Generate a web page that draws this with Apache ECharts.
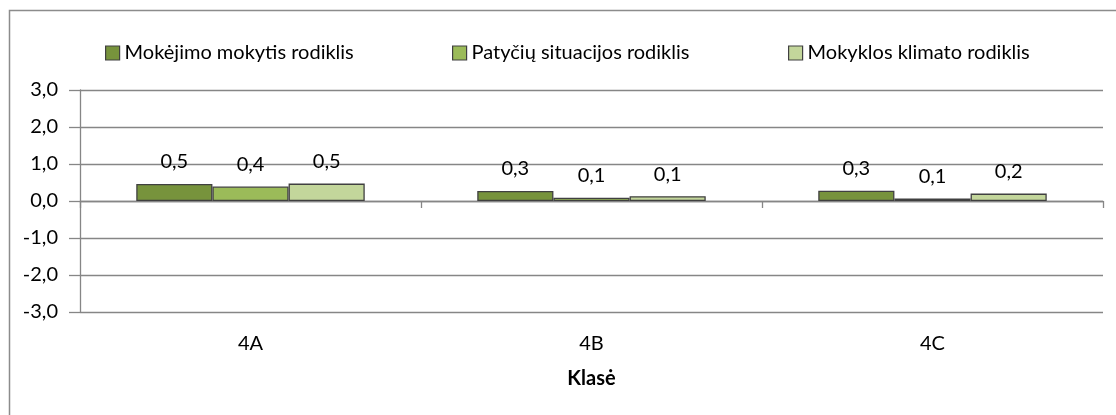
<!DOCTYPE html>
<html>
<head>
<meta charset="utf-8">
<script src="https://cdn.jsdelivr.net/npm/echarts@6/dist/echarts.min.js"></script>
<style>
html,body{margin:0;padding:0;background:#fff;}
#chart{width:1116px;height:415px;}
</style>
</head>
<body>
<div id="chart"></div>
<script>
const categories = ['4A', '4B', '4C'];
const seriesNames = ['Mokėjimo mokytis rodiklis', 'Patyčių situacijos rodiklis', 'Mokyklos klimato rodiklis'];
const mokejimo = [0.46, 0.27, 0.28];
const patyciu = [0.39, 0.09, 0.07];
const klimato = [0.47, 0.13, 0.20];
const seriesColors = ['#77933C', '#9BBB59', '#C3D69B'];
const axisTitle = 'Klasė';

const FONT = 'Lato';
const fmt = v => v.toFixed(1).replace('.', ',');
const values = [mokejimo, patyciu, klimato];

const chart = echarts.init(document.getElementById('chart'));
const legendLefts = [105, 452, 788];
chart.setOption({
  animation: false,
  backgroundColor: '#fff',
  textStyle: { fontFamily: FONT },
  graphic: [{
    type: 'rect', left: 7, top: 8, z: 0,
    shape: { width: 1200, height: 500 },
    style: { fill: 'none', stroke: '#8c8c8c', lineWidth: 1.5 }
  }],
  legend: seriesNames.map((n, i) => ({
    data: [n], left: legendLefts[i], top: 43, padding: 0,
    itemWidth: 14, itemHeight: 14, itemGap: 6,
    icon: 'rect',
    itemStyle: { borderColor: '#404040', borderWidth: 1.2 },
    textStyle: { fontFamily: FONT, fontSize: 20, color: '#000' }
  })),
  grid: { left: 80, right: 13, top: 90, bottom: 103, containLabel: false },
  xAxis: [{
    type: 'category', data: categories, position: 'bottom',
    axisLine: { onZero: true, lineStyle: { color: '#868686', width: 1.3 } },
    axisTick: { show: true, length: 7, lineStyle: { color: '#868686', width: 1.3 } },
    axisLabel: { show: false },
    splitLine: { show: false }
  }, {
    type: 'category', data: categories, position: 'bottom',
    axisLine: { show: false, onZero: false },
    axisTick: { show: false },
    axisLabel: { show: true, margin: 22, fontFamily: FONT, fontSize: 20, color: '#000' },
    name: axisTitle, nameLocation: 'middle', nameGap: 57,
    nameTextStyle: { fontFamily: FONT, fontSize: 20, fontWeight: 'bold', color: '#000' }
  }],
  yAxis: {
    type: 'value', min: -3, max: 3, interval: 1,
    axisLine: { show: true, lineStyle: { color: '#868686', width: 1.3 } },
    axisTick: { show: true, length: 11, lineStyle: { color: '#868686', width: 1.3 } },
    axisLabel: { formatter: v => fmt(v), margin: 22, fontFamily: FONT, fontSize: 20, color: '#000' },
    splitLine: { show: true, lineStyle: { color: '#868686', width: 1.3 } }
  },
  series: seriesNames.map((n, i) => ({
    name: n, type: 'bar', data: values[i], xAxisIndex: 0,
    barGap: '0%', barCategoryGap: '33%',
    itemStyle: { color: seriesColors[i], borderColor: '#404040', borderWidth: 1.3 },
    label: {
      show: true, position: 'top', distance: 12,
      formatter: p => fmt(p.value),
      fontFamily: FONT, fontSize: 20, color: '#000'
    }
  }))
});
</script>
</body>
</html>
